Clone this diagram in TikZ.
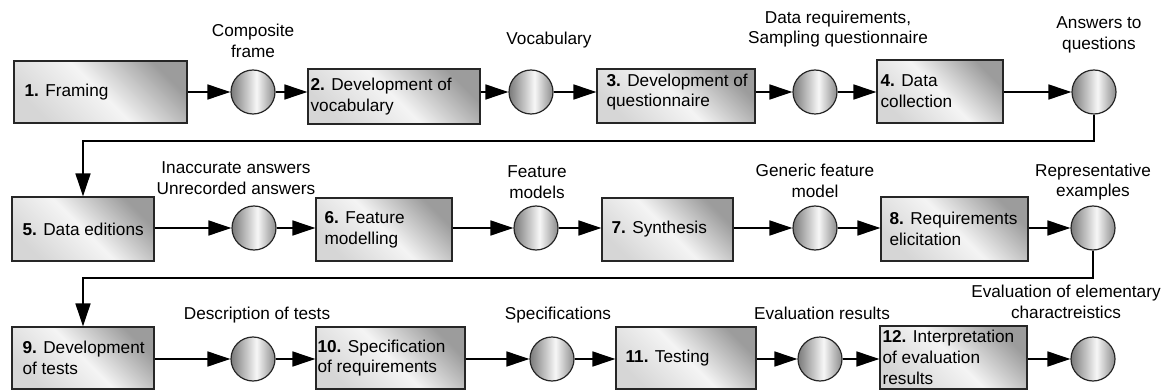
\documentclass[tikz,border=0pt]{standalone}
\usepackage{fontspec}
\setmainfont{Liberation Sans}
\usetikzlibrary{arrows.meta}

% shading of the process boxes: light at bottom-left, darker at top-right
\definecolor{procA}{HTML}{D6D6D6}
\definecolor{procB}{HTML}{F4F4F4}
\definecolor{procC}{HTML}{9C9C9C}
\pgfdeclarehorizontalshading{procshade}{100bp}{color(0bp)=(procA); color(25bp)=(procA); color(50bp)=(procB); color(75bp)=(procC); color(100bp)=(procC)}

% shading of the data circles: dark left, highlight right of centre
\definecolor{dataA}{HTML}{7A7A7A}
\definecolor{dataB}{HTML}{F7F7F7}
\definecolor{dataC}{HTML}{8C8C8C}
\pgfdeclarehorizontalshading{datashade}{100bp}{color(0bp)=(dataA); color(25bp)=(dataA); color(54bp)=(dataB); color(75bp)=(dataC); color(100bp)=(dataC)}

\newcommand{\diagfont}{\fontsize{17.2}{20.8}\selectfont}

\tikzset{
  proc/.style={draw=black!85, line width=1.2pt, shade, shading=procshade, shading angle=45, inner sep=0pt},
  ptext/.style={anchor=west, align=left, inner sep=0pt, font=\diagfont},
  datum/.style={circle, draw=black!85, line width=1.2pt, shade, shading=datashade, minimum size=44pt, inner sep=0pt},
  lab/.style={align=center, inner sep=0pt, font=\diagfont},
  flow/.style={draw=black, line width=1.6pt, -{Triangle[length=23pt, width=15pt]}}
}

\begin{document}
\begin{tikzpicture}[x=1pt, y=-1pt]
\useasboundingbox (0,0) rectangle (1164,390);

% ---------- row 1 ----------
\node[proc, minimum width=173pt, minimum height=62pt] (b1) at (100.5,92) {};
\node[proc, minimum width=172pt, minimum height=55pt] (b2) at (394,96.5) {};
\node[proc, minimum width=158pt, minimum height=54pt] (b3) at (676,96) {};
\node[proc, minimum width=126pt, minimum height=63pt] (b4) at (940,91.5) {};

\node[ptext] (t1) at ([xshift=11pt]b1.west) {\textbf{1.} Framing};
\node[ptext] (t2) at ([xshift=3pt]b2.west) {\textbf{2.} Development of\\vocabulary};
\node[ptext] (t3) at ([xshift=10pt,yshift=4pt]b3.west) {\textbf{3.} Development of\\questionnaire};
\node[ptext] (t4) at ([xshift=4pt]b4.west) {\textbf{4.} Data\\collection};

\node[datum] (c1) at (253,92) {};
\node[datum] (c2) at (531,92) {};
\node[datum] (c3) at (815,92) {};
\node[datum] (c4) at (1094,92) {};

\node[lab] (l1) at (253,41) {Composite\\frame};
\node[lab] (l2) at (549,40) {Vocabulary};
\node[lab] (l3) at (838,29) {Data requirements,\\Sampling questionnaire};
\node[lab] (l4) at (1099,35) {Answers to\\questions};

% ---------- row 2 ----------
\node[proc, minimum width=142pt, minimum height=64pt] (b5) at (83,229) {};
\node[proc, minimum width=136pt, minimum height=63pt] (b6) at (384,229.5) {};
\node[proc, minimum width=131pt, minimum height=63pt] (b7) at (667.5,229.5) {};
\node[proc, minimum width=147pt, minimum height=64pt] (b8) at (954.5,229) {};

\node[ptext] (t5) at ([xshift=11pt]b5.west) {\textbf{5.} Data editions};
\node[ptext] (t6) at ([xshift=9pt]b6.west) {\textbf{6.} Feature\\modelling};
\node[ptext] (t7) at ([xshift=10pt]b7.west) {\textbf{7.} Synthesis};
\node[ptext] (t8) at ([xshift=9pt]b8.west) {\textbf{8.} Requirements\\elicitation};

\node[datum] (c5) at (254,228) {};
\node[datum] (c6) at (536,228) {};
\node[datum] (c7) at (815,228) {};
\node[datum] (c8) at (1093,228) {};

\node[lab] (l5) at (236,178) {Inaccurate answers\\Unrecorded answers};
\node[lab] (l6) at (537,182) {Feature\\models};
\node[lab] (l7) at (815,181) {Generic feature\\model};
\node[lab] (l8) at (1093,182) {Representative\\examples};

% ---------- row 3 ----------
\node[proc, minimum width=142pt, minimum height=62pt] (b9) at (83,358) {};
\node[proc, minimum width=149pt, minimum height=62pt] (b10) at (390.5,358) {};
\node[proc, minimum width=140pt, minimum height=62pt] (b11) at (686,358) {};
\node[proc, minimum width=147pt, minimum height=63pt] (b12) at (953.5,357.5) {};

\node[ptext] (t9) at ([xshift=11pt]b9.west) {\textbf{9.} Development\\of tests};
\node[ptext] (t10) at ([xshift=2pt]b10.west) {\textbf{10.} Specification\\of requirements};
\node[ptext] (t11) at ([xshift=10pt]b11.west) {\textbf{11.} Testing};
\node[ptext] (t12) at ([xshift=3pt]b12.west) {\textbf{12.} Interpretation\\of evaluation\\results};

\node[datum] (c9) at (253,359) {};
\node[datum] (c10) at (552,359) {};
\node[datum] (c11) at (820,359) {};
\node[datum] (c12) at (1093,359) {};

\node[lab] (l9) at (257,315) {Description of tests};
\node[lab] (l10) at (558,315) {Specifications};
\node[lab] (l11) at (822,313) {Evaluation results};
\node[lab] (l12) at (1066,302) {Evaluation of elementary\\charactreistics};

% ---------- connectors ----------
\draw[flow] (b1.east |- c1) -- (c1);
\draw[flow] (c1) -- (b2.west |- c1);
\draw[flow] (b2.east |- c2) -- (c2);
\draw[flow] (c2) -- (b3.west |- c2);
\draw[flow] (b3.east |- c3) -- (c3);
\draw[flow] (c3) -- (b4.west |- c3);
\draw[flow] (b4.east |- c4) -- (c4);

\coordinate (fb1) at (600,141);
\draw[flow] (c4) -- (c4 |- fb1) -| (b5);

\draw[flow] (b5.east |- c5) -- (c5);
\draw[flow] (c5) -- (b6.west |- c5);
\draw[flow] (b6.east |- c6) -- (c6);
\draw[flow] (c6) -- (b7.west |- c6);
\draw[flow] (b7.east |- c7) -- (c7);
\draw[flow] (c7) -- (b8.west |- c7);
\draw[flow] (b8.east |- c8) -- (c8);

\coordinate (fb2) at (600,278);
\draw[flow] (c8) -- (c8 |- fb2) -| (b9);

\draw[flow] (b9.east |- c9) -- (c9);
\draw[flow] (c9) -- (b10.west |- c9);
\draw[flow] (b10.east |- c10) -- (c10);
\draw[flow] (c10) -- (b11.west |- c10);
\draw[flow] (b11.east |- c11) -- (c11);
\draw[flow] (c11) -- (b12.west |- c11);
\draw[flow] (b12.east |- c12) -- (c12);
\end{tikzpicture}
\end{document}
